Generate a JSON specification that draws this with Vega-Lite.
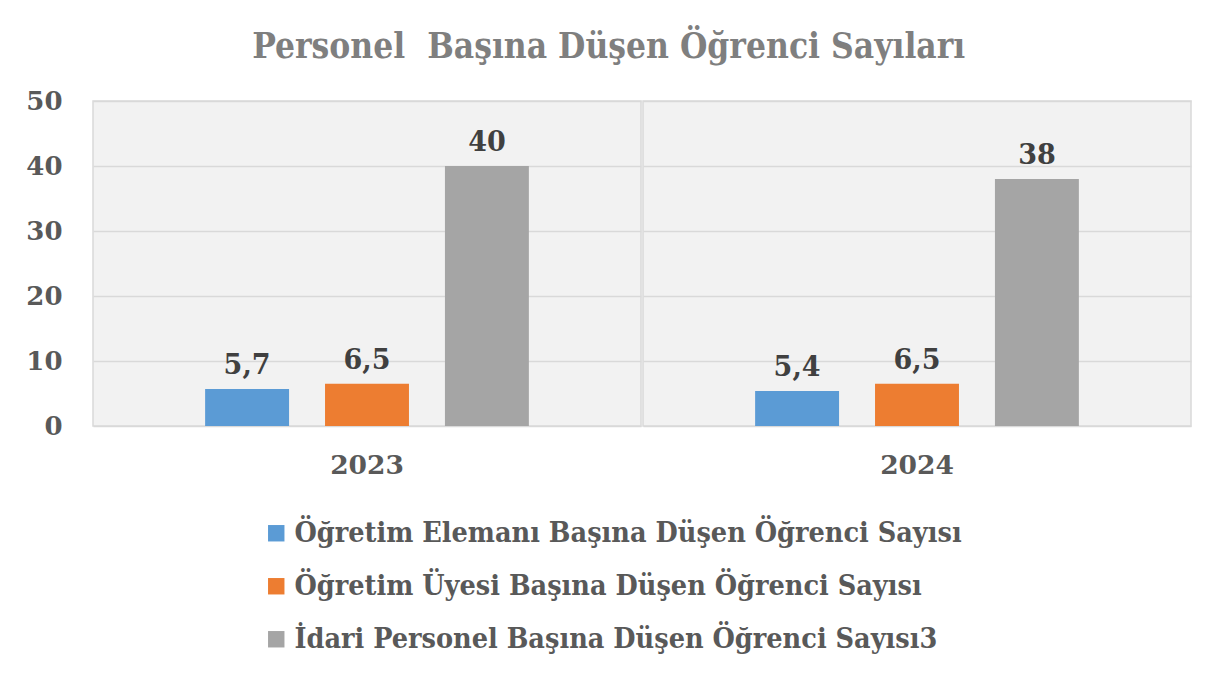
{
  "$schema": "https://vega.github.io/schema/vega-lite/v6.json",
  "padding": {"left": 25, "top": 30, "right": 20, "bottom": 5},
  "background": "white",
  "title": {
    "text": "Personel \u00a0Başına Düşen Öğrenci Sayıları",
    "font": "DejaVu Serif Condensed",
    "fontSize": 35,
    "fontWeight": "bold",
    "color": "#7f7f7f",
    "anchor": "middle",
    "offset": 23
  },
  "data": {
    "values": [
      {"yil": "2023", "seri": "Öğretim Elemanı Başına Düşen Öğrenci Sayısı", "deger": 5.7},
      {"yil": "2023", "seri": "Öğretim Üyesi Başına Düşen Öğrenci Sayısı", "deger": 6.5},
      {"yil": "2023", "seri": "İdari Personel Başına Düşen Öğrenci Sayısı3", "deger": 40},
      {"yil": "2024", "seri": "Öğretim Elemanı Başına Düşen Öğrenci Sayısı", "deger": 5.4},
      {"yil": "2024", "seri": "Öğretim Üyesi Başına Düşen Öğrenci Sayısı", "deger": 6.5},
      {"yil": "2024", "seri": "İdari Personel Başına Düşen Öğrenci Sayısı3", "deger": 38}
    ]
  },
  "facet": {
    "column": {
      "field": "yil",
      "type": "nominal",
      "header": {
        "title": null,
        "labelOrient": "bottom",
        "labelFont": "DejaVu Serif",
        "labelFontSize": 26.5,
        "labelFontWeight": "bold",
        "labelColor": "#595959",
        "labelPadding": 26
      }
    }
  },
  "spacing": 0,
  "spec": {
    "width": 548,
    "height": 325,
    "encoding": {
      "x": {
        "field": "seri",
        "type": "nominal",
        "sort": [
          "Öğretim Elemanı Başına Düşen Öğrenci Sayısı",
          "Öğretim Üyesi Başına Düşen Öğrenci Sayısı",
          "İdari Personel Başına Düşen Öğrenci Sayısı3"
        ],
        "scale": {"paddingInner": 0.3, "paddingOuter": 0.935},
        "axis": null
      },
      "y": {
        "field": "deger",
        "type": "quantitative",
        "scale": {"domain": [0, 50]},
        "axis": {
          "title": null,
          "values": [0, 10, 20, 30, 40, 50],
          "domain": false,
          "ticks": false,
          "labelFont": "DejaVu Serif",
          "labelFontSize": 26,
          "labelFontWeight": "bold",
          "labelColor": "#595959",
          "labelPadding": 30,
          "gridColor": "#d9d9d9",
          "gridWidth": 1.5
        }
      }
    },
    "layer": [
      {
        "mark": {"type": "bar"},
        "encoding": {
          "color": {
            "field": "seri",
            "type": "nominal",
            "sort": [
              "Öğretim Elemanı Başına Düşen Öğrenci Sayısı",
              "Öğretim Üyesi Başına Düşen Öğrenci Sayısı",
              "İdari Personel Başına Düşen Öğrenci Sayısı3"
            ],
            "scale": {"range": ["#5b9bd5", "#ed7d31", "#a5a5a5"]},
            "legend": {
              "title": null,
              "orient": "none",
              "legendX": 169,
              "legendY": 418,
              "direction": "vertical",
              "symbolType": "square",
              "symbolSize": 270,
              "labelFont": "DejaVu Serif Condensed",
              "labelFontSize": 28.5,
              "labelFontWeight": "bold",
              "labelColor": "#595959",
              "labelLimit": 0,
              "rowPadding": 24,
              "labelOffset": 4
            }
          }
        }
      },
      {
        "mark": {
          "type": "text",
          "baseline": "bottom",
          "dy": -9,
          "font": "DejaVu Serif",
          "fontSize": 27,
          "fontWeight": "bold",
          "color": "#404040"
        },
        "encoding": {
          "text": {"field": "deger", "type": "quantitative", "format": ".2~r"}
        }
      }
    ]
  },
  "config": {
    "locale": {
      "number": {"decimal": ",", "thousands": ".", "grouping": [3], "currency": ["", " TL"]}
    },
    "view": {"fill": "#f2f2f2", "stroke": "#d9d9d9", "strokeWidth": 1.5}
  }
}
